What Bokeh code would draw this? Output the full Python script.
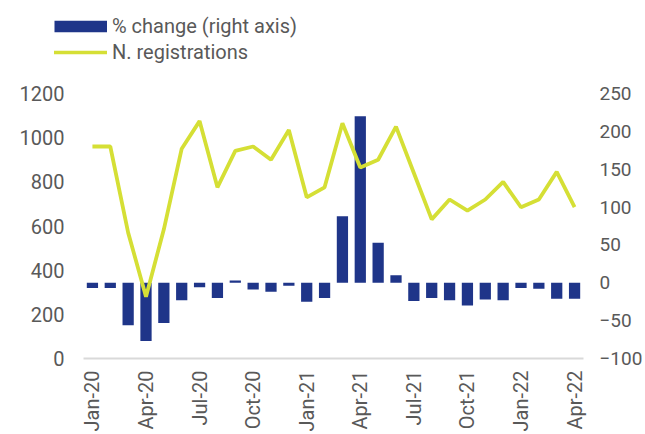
from bokeh.plotting import figure
from bokeh.layouts import column
from bokeh.models import (ColumnDataSource, Range1d, LinearAxis, FixedTicker,
                          Legend, LegendItem)
from bokeh.embed import file_html
from bokeh.resources import INLINE

months = ["Jan-20", "Feb-20", "Mar-20", "Apr-20", "May-20", "Jun-20", "Jul-20",
          "Aug-20", "Sep-20", "Oct-20", "Nov-20", "Dec-20", "Jan-21", "Feb-21",
          "Mar-21", "Apr-21", "May-21", "Jun-21", "Jul-21", "Aug-21", "Sep-21",
          "Oct-21", "Nov-21", "Dec-21", "Jan-22", "Feb-22", "Mar-22", "Apr-22"]
registrations = [960, 960, 570, 280, 585, 950, 1075, 775, 940, 960, 900, 1035,
                 730, 775, 1065, 865, 900, 1050, 840, 630, 720, 670, 720, 800,
                 685, 720, 845, 685]
pct_change = [-7, -7, -56, -77, -53, -23, -6, -20, 3, -9, -12, -4, -25, -20,
              88, 220, 53, 10, -24, -20, -23, -30, -22, -23, -7, -8, -21, -21]
tick_months = ["Jan-20", "Apr-20", "Jul-20", "Oct-20", "Jan-21", "Apr-21",
               "Jul-21", "Oct-21", "Jan-22", "Apr-22"]
left_ticks = [0, 200, 400, 600, 800, 1000, 1200]
right_ticks = [-100, -50, 0, 50, 100, 150, 200, 250]

BLUE = "#1F3589"
LIME = "#D5DF35"
GREY = "#595959"
FONT = "Roboto"
FS = "20px"

idx = list(range(len(months)))
src = ColumnDataSource(dict(x=idx, reg=registrations, pct=pct_change))

# ---- legend strip (top) ----
lg = figure(width=645, height=80, output_backend="svg", toolbar_location=None,
            x_range=Range1d(0, 1), y_range=Range1d(0, 1),
            x_axis_type=None, y_axis_type=None,
            min_border=0, min_border_left=0, min_border_right=0,
            min_border_top=0, min_border_bottom=0)
lg.frame_align = False
lg.grid.visible = False
lg.outline_line_color = None
# legend proxies: a point placed outside the visible range of this strip
bar_proxy = lg.line(x=[-5, -4], y=[-5, -5], line_color=BLUE, line_width=11.5,
                    line_cap="butt")
line_proxy = lg.line(x=[-5, -4], y=[-5, -5], line_color=LIME, line_width=3.5,
                     line_cap="round")
legend = Legend(items=[LegendItem(label="% change (right axis)", renderers=[bar_proxy]),
                       LegendItem(label="N. registrations", renderers=[line_proxy])],
                location=(54, 16), orientation="vertical",
                glyph_width=53, glyph_height=24, label_height=24, spacing=2,
                label_standoff=5, padding=0, margin=0,
                border_line_color=None, background_fill_alpha=0,
                label_text_font=FONT, label_text_font_size=FS,
                label_text_color=GREY)
lg.add_layout(legend, "center")

# ---- main chart ----
p = figure(width=645, height=354, output_backend="svg", toolbar_location=None,
           x_range=Range1d(-0.5, len(months) - 0.5), y_range=Range1d(0, 1200),
           min_border_left=83, min_border_right=61, min_border_top=13,
           min_border_bottom=74)
p.frame_align = False
p.outline_line_color = None
p.grid.visible = False
p.extra_y_ranges = {"pct": Range1d(-100, 250)}

bars = p.vbar(x="x", top="pct", bottom=0, width=0.63, source=src,
              y_range_name="pct", fill_color=BLUE, line_color=None)
line = p.line(x="x", y="reg", source=src, line_color=LIME, line_width=3.8)

tick_pos = [months.index(m) for m in tick_months]
xa = p.xaxis[0]
xa.ticker = FixedTicker(ticks=tick_pos)
xa.major_label_overrides = {i: m for i, m in zip(tick_pos, tick_months)}
xa.major_label_orientation = 3.14159265 / 2
xa.axis_line_color = "#D9D9D9"
xa.axis_line_width = 2
xa.major_label_standoff = 12

ya = p.yaxis[0]
ya.ticker = FixedTicker(ticks=left_ticks)
ya.axis_line_color = None
ya.major_label_standoff = 19

ra = LinearAxis(y_range_name="pct", ticker=FixedTicker(ticks=right_ticks))
ra.axis_line_color = None
ra.major_label_standoff = 16
p.add_layout(ra, "right")

for ax in (xa, ya, ra):
    ax.major_tick_line_color = None
    ax.minor_tick_line_color = None
    ax.major_tick_out = 0
    ax.major_tick_in = 0
    ax.minor_tick_out = 0
    ax.minor_tick_in = 0
    ax.major_label_text_font = FONT
    ax.major_label_text_font_size = FS
    ax.major_label_text_color = GREY
ra.major_label_text_font_size = "19px"

layout = column(lg, p, spacing=0)
open("out.html", "w").write(file_html(layout, INLINE))
